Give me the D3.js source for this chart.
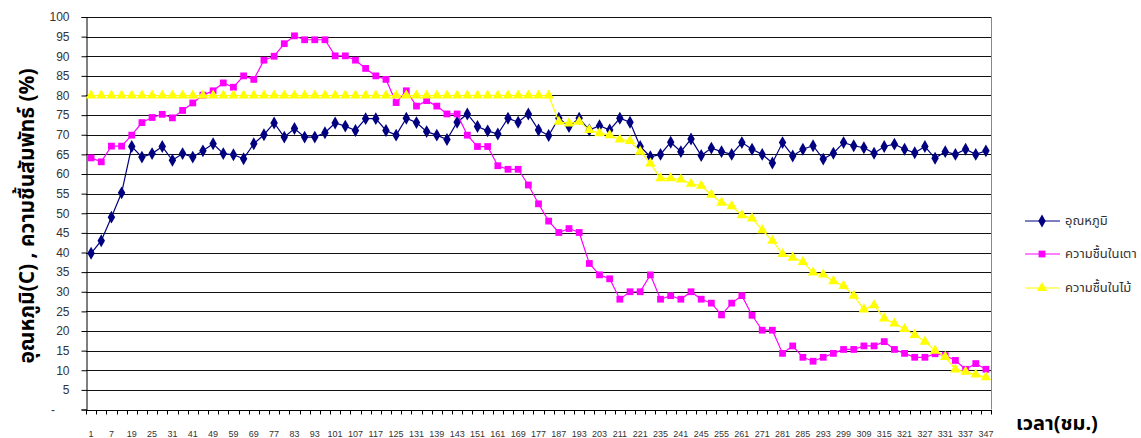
<!DOCTYPE html>
<html>
<head>
<meta charset="utf-8">
<script src="https://cdn.jsdelivr.net/npm/d3@7"></script>
<style>
  html, body { margin: 0; padding: 0; background: #fff; }
  svg { display: block; }
  text { font-family: "Liberation Sans", Arial, "Noto Sans Thai", "Noto Sans", sans-serif; }
  .thai { font-family: Tahoma, "Noto Sans Thai", "Noto Sans Thai UI", "Noto Sans", "DejaVu Sans", sans-serif; }
</style>
</head>
<body>
<svg id="chart" width="1141" height="438"></svg>
<script>
// Hour labels shown under every second sample
const tickLabels = [1, 7, 19, 25, 31, 41, 49, 59, 69, 77, 83, 93, 101, 107, 117, 125, 131, 139, 143, 151,
  161, 169, 177, 187, 193, 203, 211, 221, 235, 241, 245, 255, 261, 271, 281, 285, 293, 299, 309, 315,
  321, 327, 331, 337, 347];

// Temperature (C)
const temperature = [39.8, 43, 49, 55.2, 67, 64.3, 65.2, 67, 63.5, 65.2, 64.3, 65.9, 67.7, 65.2, 64.9, 63.9,
  67.7, 70, 73, 69.4, 71.6, 69.4, 69.4, 70.5, 73, 72.2, 71.1, 74.1, 74.1, 71.1, 69.9, 74.2, 73.1, 70.8,
  69.9, 68.8, 73.2, 75.3, 72.1, 71, 70.2, 74.2, 73.2, 75.3, 71.2, 69.8, 74.2, 72.1, 74.2, 71.2, 72.3, 71.2,
  74.2, 73.2, 67, 64.4, 65, 68.1, 65.7, 68.9, 64.7, 66.6, 65.7, 65, 68, 66.3, 65, 62.8, 68, 64.6, 66.3,
  67.2, 63.8, 65.3, 68, 67.2, 66.7, 65.3, 67, 67.6, 66.3, 65.4, 67, 64, 65.7, 65, 66.3, 65, 65.9];

// Relative humidity in the kiln (%)
const kilnHumidity = [64.1, 63.1, 67.1, 67.1, 69.9, 73.1, 74.4, 75.2, 74.3, 76.2, 78.1, 80.1, 81.2, 83.2,
  82.1, 85, 84.1, 89, 90, 93.2, 95.2, 94.2, 94.2, 94.2, 90.1, 90.1, 89, 86.9, 85, 84.1, 78.2, 81.2, 77.3,
  78.7, 77.3, 75.3, 75.3, 69.9, 67, 67, 62.1, 61.2, 61.2, 57.2, 52.4, 48, 45.1, 46.1, 45.1, 37.2, 34.3,
  33.3, 28.1, 30, 30, 34.3, 28.1, 29, 28.1, 30, 28.1, 27.1, 24.1, 27.1, 29, 24, 20.2, 20.2, 14.3, 16.2,
  13.3, 12.3, 13.3, 14.3, 15.3, 15.3, 16.2, 16.2, 17.3, 15.3, 14.3, 13.3, 13.3, 14.2, 13.75, 12.5, 10.25,
  11.7, 10.25];

// Moisture in the wood (%)
const woodMoisture = [80, 80, 80, 80, 80, 80, 80, 80, 80, 80, 80, 80, 80, 80, 80, 80, 80, 80, 80, 80, 80,
  80, 80, 80, 80, 80, 80, 80, 80, 80, 80, 80, 80, 80, 80, 80, 80, 80, 80, 80, 80, 80, 80, 80, 80, 80,
  73.3, 72.9, 73.3, 71.2, 70.4, 69.9, 68.8, 68.4, 65.7, 62.7, 58.9, 58.9, 58.6, 57.5, 57, 54.7, 52.7,
  51.8, 49.5, 48.7, 45.7, 43, 39.6, 38.7, 37.6, 34.9, 34.4, 32.7, 31.5, 29, 25.5, 26.6, 23.2, 21.9, 20.5,
  19, 17.3, 15, 13.4, 10.2, 9.6, 8.9, 8.2];

const seriesNames = ["อุณหภูมิ", "ความชื้นในเตา", "ความชื้นในไม้"];
const yTicks = d3.range(0, 101, 5);

const svg = d3.select("#chart");
const plotLeft = 86, plotRight = 991, plotTop = 17, plotBottom = 409.5;

const n = temperature.length;
const x = d3.scaleBand().domain(d3.range(n)).range([plotLeft, plotRight]);
const cx = i => x(i) + x.bandwidth() / 2;
const y = d3.scaleLinear().domain([0, 100]).range([plotBottom, plotTop]);

// Horizontal gridlines
svg.append("g")
  .selectAll("line")
  .data(yTicks.filter(v => v > 0))
  .join("line")
  .attr("x1", plotLeft).attr("x2", plotRight)
  .attr("y1", d => Math.round(y(d)) + 0.5).attr("y2", d => Math.round(y(d)) + 0.5)
  .attr("stroke", "#111").attr("stroke-width", 1);

// Right edge of plot area
svg.append("line")
  .attr("x1", plotRight + 0.5).attr("x2", plotRight + 0.5)
  .attr("y1", plotTop).attr("y2", plotBottom)
  .attr("stroke", "#888").attr("stroke-width", 1);

// Y axis
const yAxis = d3.axisLeft(y).tickValues(yTicks).tickSize(5).tickPadding(12)
  .tickFormat(d => d === 0 ? "" : d);
const yg = svg.append("g").attr("transform", `translate(${plotLeft + 0.5},0)`).call(yAxis);
yg.select(".domain").attr("stroke", "#000");
yg.selectAll(".tick line").attr("stroke", "#000");
yg.selectAll(".tick text").attr("font-size", 12).attr("fill", "#333")
  .attr("font-family", "'Liberation Sans', Arial, sans-serif");
svg.append("text").attr("x", 53).attr("y", y(0) + 4).attr("text-anchor", "middle")
  .attr("font-size", 12).attr("fill", "#333").text("-");

// X axis: tick marks sit between categories, labels on every second sample
const xg = svg.append("g").attr("transform", `translate(0,${Math.round(plotBottom) + 0.5})`);
xg.append("line").attr("x1", plotLeft).attr("x2", plotRight + 1).attr("stroke", "#000");
xg.selectAll("line.tk")
  .data(d3.range(n + 1))
  .join("line").attr("class", "tk")
  .attr("x1", i => Math.round(i < n ? x(i) : plotRight) + 0.5)
  .attr("x2", i => Math.round(i < n ? x(i) : plotRight) + 0.5)
  .attr("y1", 0).attr("y2", 4)
  .attr("stroke", "#000");
xg.selectAll("text")
  .data(tickLabels)
  .join("text")
  .attr("x", (d, k) => cx(k * 2))
  .attr("y", 26)
  .attr("text-anchor", "middle")
  .attr("font-size", 9).attr("fill", "#333")
  .text(d => d);

// Series
const line = d3.line().x((d, i) => cx(i)).y(d => y(d));
const diamond = d3.symbol().type(d3.symbolDiamond).size(48);
const square = d3.symbol().type(d3.symbolSquare).size(46);
const triangle = d3.symbol().type(d3.symbolTriangle).size(48);

const series = [
  { values: temperature, color: "#000080", sym: diamond, fill: "#000080" },
  { values: kilnHumidity, color: "#FF00FF", sym: square, fill: "#FF00FF" },
  { values: woodMoisture, color: "#FFFF00", sym: triangle, fill: "#FFFF00" }
];

series.forEach(s => {
  const g = svg.append("g");
  g.append("path").datum(s.values)
    .attr("d", line).attr("fill", "none")
    .attr("stroke", s.color).attr("stroke-width", 1.2);
  g.selectAll("path.m").data(s.values).join("path").attr("class", "m")
    .attr("d", s.sym)
    .attr("transform", (d, i) => `translate(${cx(i)},${y(d)})`)
    .attr("fill", s.fill);
});

// Axis titles
svg.append("text").attr("class", "thai")
  .attr("transform", "translate(34,216) rotate(-90)")
  .attr("text-anchor", "middle")
  .attr("font-size", 21).attr("font-weight", "bold").attr("fill", "#000")
  .text("อุณหภูมิ(C) , ความชื้นสัมพัทธ์ (%)");

svg.append("text").attr("class", "thai")
  .attr("x", 1016).attr("y", 430)
  .attr("font-size", 20).attr("font-weight", "bold").attr("fill", "#000")
  .text("เวลา(ชม.)");

// Legend
const legendY = [221, 254, 288];
series.forEach((s, k) => {
  const g = svg.append("g").attr("transform", `translate(0,${legendY[k]})`);
  g.append("line").attr("x1", 1025).attr("x2", 1060).attr("stroke", s.color).attr("stroke-width", 1.2);
  g.append("path").attr("d", s.sym).attr("transform", "translate(1042,0)").attr("fill", s.fill);
  g.append("text").attr("class", "thai").attr("x", 1065).attr("y", 4)
    .attr("font-size", 13).attr("fill", "#333").text(seriesNames[k]);
});
</script>
</body>
</html>
